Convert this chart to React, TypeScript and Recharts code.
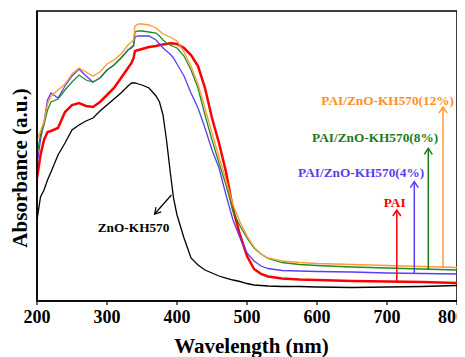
import React from 'react';
import { LineChart, Line, XAxis, YAxis, ReferenceArea, ReferenceLine, ReferenceDot, Label } from 'recharts';

const wavelengths = [200, 205, 210, 215, 220, 230, 240, 250, 260, 270, 280, 290, 300, 310, 320, 330, 335, 338, 340, 345, 350, 360, 370, 375, 380, 385, 390, 395, 400, 410, 420, 430, 440, 450, 460, 470, 480, 490, 500, 510, 520, 530, 550, 575, 600, 650, 700, 750, 800];

const zno = [0.81, 1.04, 1.11, 1.21, 1.29, 1.46, 1.58, 1.71, 1.76, 1.8, 1.83, 1.9, 1.96, 2.02, 2.08, 2.15, 2.18, 2.18, 2.18, 2.17, 2.16, 2.13, 2.05, 1.99, 1.86, 1.61, 1.31, 1.03, 0.86, 0.63, 0.43, 0.36, 0.31, 0.28, 0.25, 0.23, 0.21, 0.195, 0.175, 0.16, 0.155, 0.15, 0.145, 0.145, 0.14, 0.135, 0.14, 0.145, 0.155];
const pai = [1.23, 1.46, 1.61, 1.69, 1.7, 1.73, 1.89, 1.96, 1.98, 1.95, 1.94, 1.99, 2.06, 2.13, 2.23, 2.33, 2.38, 2.43, 2.5, 2.51, 2.52, 2.54, 2.55, 2.56, 2.565, 2.57, 2.577, 2.575, 2.57, 2.53, 2.46, 2.35, 2.13, 1.83, 1.58, 1.29, 0.92, 0.66, 0.45, 0.32, 0.27, 0.245, 0.225, 0.215, 0.21, 0.2, 0.195, 0.19, 0.18];
const pai4 = [1.36, 1.61, 1.79, 2.01, 2.08, 2.03, 2.15, 2.25, 2.32, 2.25, 2.19, 2.23, 2.31, 2.36, 2.43, 2.51, 2.53, 2.55, 2.64, 2.65, 2.65, 2.65, 2.61, 2.57, 2.53, 2.5, 2.47, 2.43, 2.37, 2.25, 2.08, 1.93, 1.73, 1.51, 1.33, 1.06, 0.81, 0.63, 0.48, 0.4, 0.35, 0.325, 0.305, 0.3, 0.295, 0.29, 0.28, 0.275, 0.27];
const pai8 = [1.46, 1.66, 1.76, 1.91, 1.99, 2.02, 2.11, 2.19, 2.26, 2.21, 2.19, 2.23, 2.31, 2.36, 2.43, 2.51, 2.54, 2.56, 2.69, 2.7, 2.7, 2.69, 2.68, 2.65, 2.61, 2.58, 2.56, 2.545, 2.53, 2.45, 2.31, 2.13, 1.86, 1.61, 1.38, 1.16, 0.9, 0.75, 0.63, 0.53, 0.47, 0.425, 0.385, 0.365, 0.355, 0.34, 0.33, 0.32, 0.31];
const pai12 = [1.61, 1.7, 1.79, 1.97, 2.05, 2.11, 2.17, 2.27, 2.33, 2.29, 2.25, 2.29, 2.37, 2.41, 2.47, 2.56, 2.59, 2.61, 2.75, 2.77, 2.77, 2.76, 2.73, 2.7, 2.67, 2.655, 2.64, 2.62, 2.6, 2.49, 2.35, 2.17, 1.93, 1.68, 1.44, 1.21, 0.96, 0.79, 0.65, 0.54, 0.47, 0.43, 0.4, 0.385, 0.375, 0.365, 0.355, 0.345, 0.335];

const xTicks = [200, 300, 400, 500, 600, 700, 800];

const seriesNames = ['ZnO-KH570', 'PAI', 'PAI/ZnO-KH570(4%)', 'PAI/ZnO-KH570(8%)', 'PAI/ZnO-KH570(12%)'];
const seriesKeys = ['zno', 'pai', 'pai4', 'pai8', 'pai12'];
const seriesColors = ['#000000', '#FF0000', '#5B3CF5', '#228B22', '#FF9933'];
const labelColors = ['#000000', '#FF0000', '#5B3CF5', '#1E7A1E', '#FF9020'];

// label anchor (wavelength, absorbance)
const labelX = [338, 711, 663, 683, 701];
const labelY = [0.687, 0.943, 1.243, 1.593, 1.965];

// vertical arrows for the PAI series: x, start (on curve), tip
const arrowX = [714, 739, 759, 780];
const arrowY0 = [0.185, 0.27, 0.31, 0.337];
const arrowY1 = [0.91, 1.193, 1.527, 1.94];
const arrowColors = ['#FF0000', '#5B3CF5', '#1E7A1E', '#FF9933'];

// diagonal arrow for ZnO-KH570
const znoArrowFrom = { x: 392, y: 1.06 };
const znoArrowTo = { x: 368, y: 0.87 };

const data = wavelengths.map((w, i) => ({
  w,
  zno: zno[i],
  pai: pai[i],
  pai4: pai4[i],
  pai8: pai8[i],
  pai12: pai12[i],
}));

const FONT = '"Liberation Serif", "Times New Roman", serif';

const upHead = (color: string) => (props: any) => {
  const { cx, cy } = props;
  if (cx == null || cy == null) return <g />;
  return (
    <path d={`M${cx - 4},${cy + 6} L${cx},${cy} L${cx + 4},${cy + 6}`} fill="none" stroke={color} strokeWidth={1.5} />
  );
};

const diagHead = (props: any) => {
  const { cx, cy } = props;
  if (cx == null || cy == null) return <g />;
  const dx = -17, dy = 19;
  const len = Math.sqrt(dx * dx + dy * dy);
  const ux = dx / len, uy = dy / len;
  const back = 6, half = 3.5;
  const bx = cx - ux * back, by = cy - uy * back;
  const px = -uy, py = ux;
  return (
    <path d={`M${bx + px * half},${by + py * half} L${cx},${cy} L${bx - px * half},${by - py * half}`} fill="none" stroke="#000" strokeWidth={1.2} />
  );
};

const textShape = (text: string, color: string) => (props: any) => {
  const { cx, cy } = props;
  if (cx == null || cy == null) return <g />;
  return (
    <text x={cx} y={cy} textAnchor="middle" fill={color} fontFamily={FONT} fontWeight="bold" fontSize={13.3}>
      {text}
    </text>
  );
};

export default function App() {
  return (
    <div style={{ width: 449 }}>
      <LineChart width={457} height={349} data={data} margin={{ top: 3, right: 8, bottom: 0, left: 0 }} style={{ overflow: 'visible' }}>
        <XAxis
          dataKey="w"
          type="number"
          domain={[200, 800]}
          ticks={xTicks}
          allowDataOverflow
          height={56}
          tickSize={4}
          tickMargin={5}
          axisLine={{ stroke: '#000', strokeWidth: 1.5 }}
          tickLine={{ stroke: '#000', strokeWidth: 1.2 }}
          tick={{ fontSize: 18, fontWeight: 'bold', fill: '#000', fontFamily: FONT }}
        >
          <Label
            content={() => (
              <text x={243.5} y={345} textAnchor="middle" fontFamily={FONT} fontWeight="bold" fontSize={21} fill="#000">
                Wavelength (nm)
              </text>
            )}
          />
        </XAxis>
        <YAxis
          type="number"
          domain={[0, 2.9]}
          allowDataOverflow
          width={29}
          tick={false}
          tickLine={false}
          axisLine={{ stroke: '#000', strokeWidth: 1.5 }}
        >
          <Label
            content={() => (
              <text x={19} y={160} transform="rotate(-90 19 160)" textAnchor="middle" fontFamily={FONT} fontWeight="bold" fontSize={21} fill="#000">
                Absorbance (a.u.)
              </text>
            )}
          />
        </YAxis>
        <ReferenceArea x1={200} x2={800} y1={0} y2={2.9} fill="none" stroke="#000" strokeWidth={1.5} fillOpacity={0} />
        {seriesKeys.map((k, i) => (
          <Line
            key={k}
            type="linear"
            dataKey={k}
            name={seriesNames[i]}
            stroke={seriesColors[i]}
            strokeWidth={k === 'pai' ? 2.5 : 1.3}
            dot={false}
            activeDot={false}
            isAnimationActive={false}
          />
        ))}
        {arrowX.map((x, i) => (
          <ReferenceLine
            key={'al' + i}
            segment={[{ x, y: arrowY0[i] }, { x, y: arrowY1[i] }]}
            stroke={arrowColors[i]}
            strokeWidth={1.5}
          />
        ))}
        {arrowX.map((x, i) => (
          <ReferenceDot key={'ah' + i} x={x} y={arrowY1[i]} r={0} shape={upHead(arrowColors[i])} />
        ))}
        <ReferenceLine segment={[znoArrowFrom, znoArrowTo]} stroke="#000" strokeWidth={1.2} />
        <ReferenceDot x={znoArrowTo.x} y={znoArrowTo.y} r={0} shape={diagHead} />
        {seriesNames.map((n, i) => (
          <ReferenceDot key={'lb' + i} x={labelX[i]} y={labelY[i]} r={0} shape={textShape(n, labelColors[i])} />
        ))}
      </LineChart>
    </div>
  );
}
